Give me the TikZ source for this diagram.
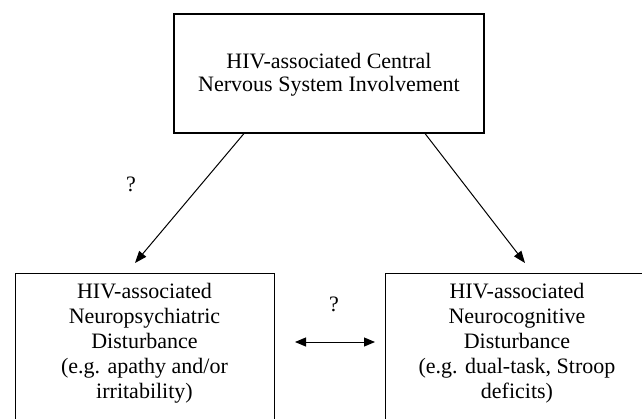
\documentclass[tikz,border=0pt]{standalone}
\usepackage{fontspec}
\setmainfont{Liberation Serif}
\usetikzlibrary{arrows.meta}
\begin{document}
\begin{tikzpicture}[x=1pt,y=-1pt,
  box/.style={draw=black, line width=1.1pt, inner sep=0pt},
  txt/.style={align=center, inner sep=0pt, font=\fontsize{22}{25}\selectfont},
  toptxt/.style={align=center, inner sep=0pt, font=\fontsize{22}{23}\selectfont},
  arr/.style={line width=1pt, -{Triangle[length=12pt,width=9pt]}},
  darr/.style={line width=1pt, {Triangle[length=11pt,width=9pt]}-{Triangle[length=11pt,width=9pt]}},
  qm/.style={inner sep=0pt, font=\fontsize{22}{25}\selectfont}]
\clip (0,0) rectangle (642,418);
\fill[white] (0,0) rectangle (642,418);
% top box
\node[box, minimum width=310pt, minimum height=119pt] (top) at (329,73.5) {};
\node[toptxt] (toptext) at (329,75) {HIV-associated Central\\Nervous System Involvement};
% bottom boxes
\node[box, minimum width=259pt, minimum height=200pt, anchor=north west] (L) at (15,273) {};
\node[txt] (Ltext) at (144.5,343) {HIV-associated\\Neuropsychiatric\\Disturbance\\(e.g. apathy and/or\\irritability)};
\node[box, minimum width=280pt, minimum height=200pt, anchor=north west] (R) at (385,273) {};
\node[txt] (Rtext) at (517,343) {HIV-associated\\Neurocognitive\\Disturbance\\(e.g. dual-task, Stroop\\deficits)};
% connectors
\coordinate (a1) at (244,133.5);
\coordinate (a2) at (135,263);
\coordinate (b1) at (425,133.5);
\coordinate (b2) at (525,263);
\coordinate (c1) at (295,342);
\coordinate (c2) at (375,342);
\draw[arr] (a1) -- (a2);
\draw[arr] (b1) -- (b2);
\draw[darr] (c1) -- (c2);
% question marks
\node[qm] (q1) at (131,184) {?};
\node[qm] (q2) at (334,304) {?};
\end{tikzpicture}
\end{document}
